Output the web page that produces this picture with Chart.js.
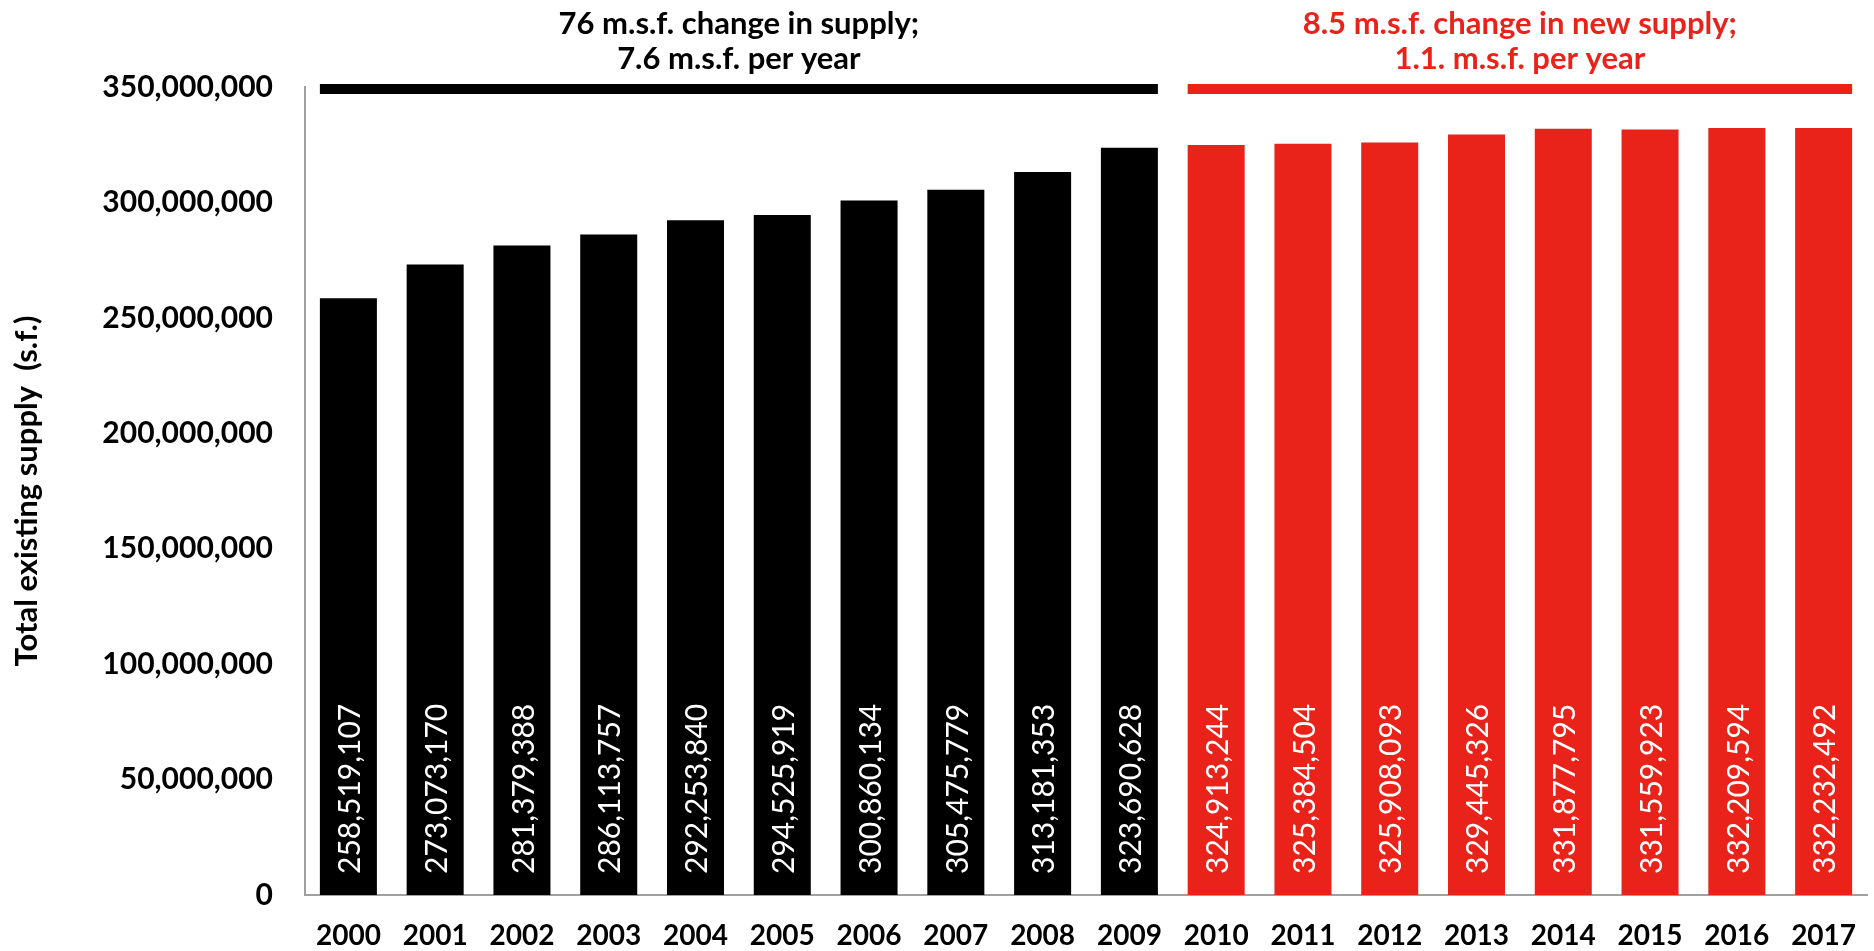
<!DOCTYPE html>
<html>
<head>
<meta charset="utf-8">
<script src="https://cdn.jsdelivr.net/npm/chart.js@4.4.1/dist/chart.umd.min.js"></script>
<style>
    html, body { margin: 0; padding: 0; background: #fff; }
    #wrap { position: relative; width: 1874px; height: 951px; }
</style>
</head>
<body>
<div id="wrap"><canvas id="supply-chart"></canvas></div>
<script>
const years = ['2000', '2001', '2002', '2003', '2004', '2005', '2006', '2007', '2008',
    '2009', '2010', '2011', '2012', '2013', '2014', '2015', '2016', '2017'];
const supply = [258519107, 273073170, 281379388, 286113757, 292253840, 294525919,
    300860134, 305475779, 313181353, 323690628, 324913244, 325384504, 325908093,
    329445326, 331877795, 331559923, 332209594, 332232492];
const yTicks = [0, 50000000, 100000000, 150000000, 200000000, 250000000, 300000000, 350000000];

// two periods, each gets a bracket with a note above it
const periodFirst = [0, 10];
const periodLast = [9, 17];
const periodNotes = [
    ['76 m.s.f. change in supply;', '7.6 m.s.f. per year'],
    ['8.5 m.s.f. change in new supply;', '1.1. m.s.f. per year']
];

const BLACK = '#000000';
const RED = '#e9231a';
const periodColors = [BLACK, RED];
const FONT = 'Lato, "Open Sans", sans-serif';

const barColors = years.map((y, i) => i <= periodLast[0] ? periodColors[0] : periodColors[1]);
const fmt = v => Number(v).toLocaleString('en-US');

const valueLabels = {
    id: 'valueLabels',
    afterDatasetsDraw(chart) {
        const ctx = chart.ctx;
        const meta = chart.getDatasetMeta(0);
        ctx.save();
        ctx.fillStyle = '#fff';
        ctx.font = `30px ${FONT}`;
        ctx.textAlign = 'left';
        ctx.textBaseline = 'middle';
        meta.data.forEach((bar, i) => {
            ctx.save();
            ctx.translate(bar.x + 2, bar.base - 21);
            ctx.rotate(-Math.PI / 2);
            ctx.fillText(fmt(supply[i]), 0, 0);
            ctx.restore();
        });
        ctx.restore();
    }
};

const periodBrackets = {
    id: 'periodBrackets',
    afterDraw(chart) {
        const ctx = chart.ctx;
        const meta = chart.getDatasetMeta(0);
        const yTop = chart.scales.y.getPixelForValue(yTicks[yTicks.length - 1]) - 3;
        ctx.save();
        periodFirst.forEach((first, p) => {
            const a = meta.data[first];
            const b = meta.data[periodLast[p]];
            const x0 = a.x - a.width / 2;
            const x1 = b.x + b.width / 2;
            ctx.fillStyle = periodColors[p];
            ctx.fillRect(x0, yTop, x1 - x0, 10);
            ctx.font = `bold 31px ${FONT}`;
            ctx.textAlign = 'center';
            ctx.textBaseline = 'middle';
            const cx = (x0 + x1) / 2;
            ctx.fillText(periodNotes[p][0], cx, yTop - 60);
            ctx.fillText(periodNotes[p][1], cx, yTop - 25);
        });
        ctx.restore();
    }
};

new Chart(document.getElementById('supply-chart'), {
    type: 'bar',
    data: {
        labels: years,
        datasets: [{
            data: supply,
            backgroundColor: barColors,
            borderWidth: 0,
            categoryPercentage: 1,
            barPercentage: 0.657
        }]
    },
    options: {
        responsive: true,
        maintainAspectRatio: false,
        animation: false,
        layout: { padding: { left: 0, top: 87, right: 7, bottom: 0 } },
        plugins: {
            legend: { display: false },
            tooltip: { enabled: false }
        },
        scales: {
            x: {
                grid: { display: false },
                border: { display: true, color: '#a0a0a0', width: 2 },
                ticks: {
                    color: '#000',
                    font: { family: FONT, size: 28, weight: 'bold' },
                    padding: 16,
                    maxRotation: 0
                },
                afterFit: s => { s.height = 56; }
            },
            y: {
                min: 0,
                max: yTicks[yTicks.length - 1],
                grid: { display: false },
                border: { display: true, color: '#a0a0a0', width: 2 },
                afterBuildTicks: s => { s.ticks = yTicks.map(v => ({ value: v })); },
                ticks: {
                    color: '#000',
                    font: { family: FONT, size: 30, weight: 'bold' },
                    padding: 24,
                    callback: v => fmt(v)
                },
                title: {
                    display: true,
                    text: 'Total existing supply  (s.f.)',
                    color: '#000',
                    font: { family: FONT, size: 31, weight: 'bold' },
                    padding: { top: 8, bottom: 0 }
                },
                afterFit: s => { s.width = 305; }
            }
        }
    },
    plugins: [valueLabels, periodBrackets]
});
</script>
</body>
</html>
